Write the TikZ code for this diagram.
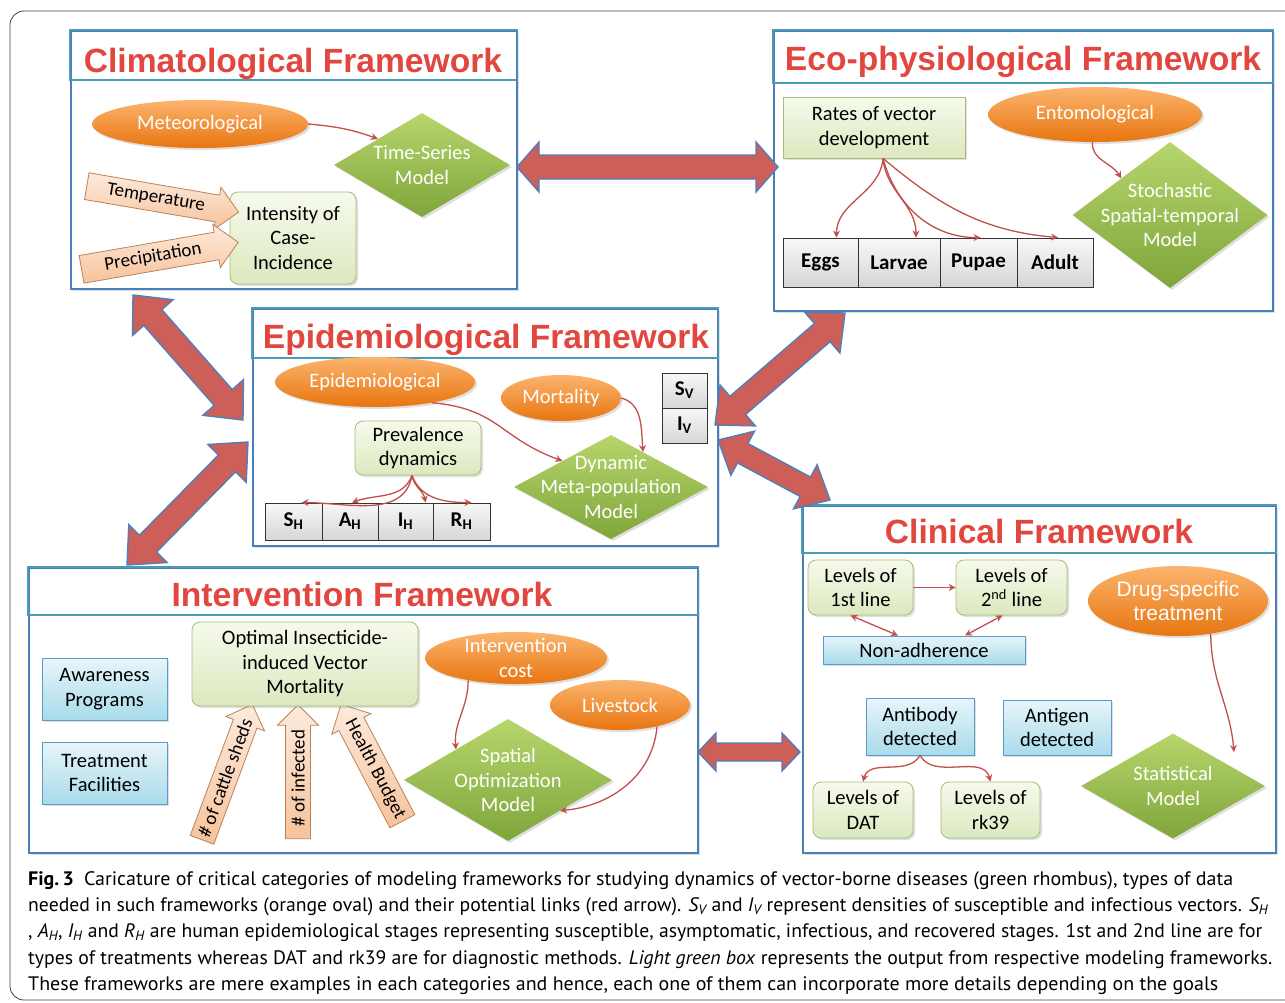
\documentclass[tikz,border=0pt]{standalone}
\usepackage{fontspec}
\usepackage{graphicx}
\setmainfont{Carlito}
\newfontfamily\arialfont{Liberation Sans}
\newfontfamily\capfont{PT Sans}
\usetikzlibrary{shapes.geometric,shapes.arrows,calc,shadows,arrows.meta}

\definecolor{frameblue}{HTML}{4A7EBB}
\definecolor{titleteal}{HTML}{4A9BB5}
\definecolor{titlered}{HTML}{E2473F}
\definecolor{linkred}{HTML}{C0504D}
\definecolor{bigred}{HTML}{CD5F58}
\definecolor{bigborder}{HTML}{4F7FBB}
\definecolor{orangeT}{HTML}{FBB46E}
\definecolor{orangeB}{HTML}{E8750F}
\definecolor{greenT}{HTML}{B7D66C}
\definecolor{greenB}{HTML}{7FA53B}
\definecolor{lgT}{HTML}{F6FAEC}
\definecolor{lgB}{HTML}{DCE8BF}
\definecolor{lgD}{HTML}{A6BE78}
\definecolor{lbT}{HTML}{E8F5FA}
\definecolor{lbB}{HTML}{A8DBEA}
\definecolor{lbD}{HTML}{5B9BC8}
\definecolor{peachT}{HTML}{FDEBDD}
\definecolor{peachB}{HTML}{F6C29B}
\definecolor{peachD}{HTML}{B9835A}
\definecolor{grayT}{HTML}{F8F8F8}
\definecolor{grayB}{HTML}{D6D6D6}

\newcommand\bigdbl[5]{%
  \draw[bigarr] (#1) -- ($(#1)!#3!(#2)!#5!90:(#2)$) -- ($(#1)!#3!(#2)!#4!90:(#2)$)
   -- ($(#2)!#3!(#1)!#4!-90:(#1)$) -- ($(#2)!#3!(#1)!#5!-90:(#1)$) -- (#2)
   -- ($(#2)!#3!(#1)!#5!90:(#1)$) -- ($(#2)!#3!(#1)!#4!90:(#1)$)
   -- ($(#1)!#3!(#2)!#4!-90:(#2)$) -- ($(#1)!#3!(#2)!#5!-90:(#2)$) -- cycle;}

\tikzset{
 softshadow/.style={drop shadow={opacity=0.25,shadow xshift=2pt,shadow yshift=-2pt}},
 fw/.style={rectangle, draw=frameblue, line width=1.6pt, fill=white, softshadow, inner sep=0pt, anchor=north west},
 fwband/.style={draw=titleteal, line width=1.6pt},
 fwtext/.style={font=\arialfont\fontsize{33.6}{36}\selectfont\bfseries, text=titlered, anchor=base, inner sep=0pt},
 body/.style={font=\fontsize{20.5}{24.5}\selectfont, align=center},
 oval/.style={body, ellipse, inner sep=-15pt, top color=orangeT, bottom color=orangeB, draw=none, text=white, softshadow},
 dia/.style={body, diamond, inner sep=-30pt, top color=greenT, bottom color=greenB, draw=none, text=white, softshadow},
 sqbox/.style={body, rectangle, draw=lgD, line width=0.8pt, top color=lgT, bottom color=lgB, inner sep=2pt, softshadow},
 outbox/.style={sqbox, rounded corners=8pt},
 bluebox/.style={body, rectangle, draw=lbD, line width=1pt, top color=lbT, bottom color=lbB, inner sep=2pt, softshadow},
 cellbox/.style={rectangle, draw=black!80, line width=0.9pt, top color=grayT, bottom color=grayB, font=\fontsize{21}{24}\selectfont\bfseries, inner sep=0pt},
 inarr/.style={single arrow, draw=peachD, line width=0.8pt, top color=peachT, bottom color=peachB, single arrow head extend=8pt, inner xsep=3pt, inner ysep=5.5pt, font=\fontsize{19}{22}\selectfont},
 link/.style={draw=linkred, line width=1.3pt, -{Stealth[length=7pt,width=7pt]}},
 link2/.style={draw=linkred, line width=1.3pt, {Stealth[length=7pt,width=7pt]}-{Stealth[length=7pt,width=7pt]}},
 bigarr/.style={fill=bigred, draw=bigborder, line width=1.4pt, line join=miter},
 capline/.style={font=\capfont\fontsize{19.5}{22}\selectfont, anchor=base west, inner sep=0pt},
}

\begin{document}
\begin{tikzpicture}[x=1pt,y=-1pt]
\useasboundingbox (0,0) rectangle (1285,1002);
\draw[black!75, line width=0.8pt, rounded corners=14pt] (10,11) rectangle (1300,1000);

% ---------- framework boxes ----------
\node[fw, minimum width=446pt, minimum height=258pt] (clim) at (70,30) {};
\draw[fwband] (clim.north west) rectangle ($(clim.north east)+(0,50)$);
\node[fwtext] (climT) at (293,72) {Climatological Framework};

\node[fw, minimum width=499pt, minimum height=280pt] (eco) at (773,30) {};
\draw[fwband] (eco.north west) rectangle ($(eco.north east)+(0,53)$);
\node[fwtext] (ecoT) at (1023,70) {Eco-physiological Framework};

\node[fw, minimum width=465pt, minimum height=237pt] (epi) at (252,308) {};
\draw[fwband] (epi.north west) rectangle ($(epi.north east)+(0,50)$);
\node[fwtext] (epiT) at (486,348) {Epidemiological Framework};

\node[fw, minimum width=669pt, minimum height=285pt] (intv) at (28,567) {};
\draw[fwband] (intv.north west) rectangle ($(intv.north east)+(0,48)$);
\node[fwtext] (intvT) at (362,606) {Intervention Framework};

\node[fw, minimum width=473pt, minimum height=347pt] (clin) at (802,505) {};
\draw[fwband] (clin.north west) rectangle ($(clin.north east)+(0,48)$);
\node[fwtext] (clinT) at (1039,543) {Clinical Framework};

% ---------- big double arrows ----------
\coordinate (ceA) at (517,167);  \coordinate (ceB) at (778,167);
\coordinate (cpA) at (133,295);  \coordinate (cpB) at (243,420);
\coordinate (piA) at (248,442);  \coordinate (piB) at (127,565);
\coordinate (peA) at (715,425);  \coordinate (peB) at (845,313);
\coordinate (pcA) at (718,440);  \coordinate (pcB) at (830,500);
\coordinate (icA) at (698,752);  \coordinate (icB) at (800,752);
\bigdbl{ceA}{ceB}{22pt}{12pt}{25pt}
\bigdbl{cpA}{cpB}{30pt}{12pt}{27pt}
\bigdbl{piA}{piB}{30pt}{12pt}{27pt}
\bigdbl{peA}{peB}{30pt}{12pt}{27pt}
\bigdbl{pcA}{pcB}{28pt}{11pt}{25pt}
\bigdbl{icA}{icB}{18pt}{9pt}{19pt}

% ---------- Climatological ----------
\node[oval, minimum width=216pt, minimum height=48pt] (met) at (200,124) {Meteorological};
\node[dia, minimum width=176pt, minimum height=104pt] (ts) at (422,165) {Time-Series\\Model};
\node[outbox, minimum width=126pt, minimum height=92pt] (inten) at (293,238) {Intensity of\\Case-\\Incidence};
\node[inarr, rotate=-9.7, minimum height=154pt] (temp) at (156,198) {Temperature};
\node[inarr, rotate=9.8, minimum height=159pt] (prec) at (153,257) {Precipitation};
\draw[link] (met.east) to[out=-5,in=160] (ts.north west);

% ---------- Eco-physiological ----------
\node[sqbox, minimum width=182pt, minimum height=61pt] (rates) at (874,127.5) {Rates of vector\\development};
\node[oval, minimum width=214pt, minimum height=55pt] (ent) at (1095,114.5) {Entomological};
\node[dia, minimum width=195pt, minimum height=146pt] (st) at (1170,215) {Stochastic\\Spatial-temporal\\Model};
\node[cellbox, minimum width=75pt, minimum height=49pt] (eggs) at (820.5,262.5) {Eggs};
\node[cellbox, minimum width=82pt, minimum height=49pt] (larvae) at (899,262.5) {Larvae};
\node[cellbox, minimum width=77pt, minimum height=49pt] (pupae) at (978.5,262.5) {Pupae};
\node[cellbox, minimum width=76pt, minimum height=49pt] (adult) at (1055,262.5) {Adult};
\coordinate (rs) at ($(rates.south)+(9,0)$);
\draw[link] (rs) to[out=-95,in=90] ($(eggs.north)+(16,0)$);
\draw[link] (rs) to[out=-85,in=90] ($(larvae.north)+(17,0)$);
\draw[link] (rs) to[out=-75,in=180] ($(pupae.north)+(2,0)$);
\draw[link] (rs) to[out=-40,in=175] ($(adult.north)+(3,0)$);
\draw[link] (ent.265) to[out=-95,in=120] (st.north west);

% ---------- Epidemiological ----------
\node[oval, minimum width=200pt, minimum height=50pt] (epiov) at (375,382) {Epidemiological};
\node[oval, minimum width=120pt, minimum height=46pt] (mort) at (561,398) {Mortality};
\node[outbox, minimum width=126pt, minimum height=54pt] (prev) at (418,448) {Prevalence\\dynamics};
\node[dia, minimum width=194pt, minimum height=104pt] (dyn) at (611,487) {Dynamic\\Meta-population\\Model};
\node[cellbox, minimum width=45pt, minimum height=35pt] (sv) at (684.5,390.5) {S\textsubscript{V}};
\node[cellbox, minimum width=45pt, minimum height=35pt] (iv) at (684.5,425.5) {I\textsubscript{V}};
\node[cellbox, minimum width=57pt, minimum height=37pt] (sh) at (293.5,521.5) {S\textsubscript{H}};
\node[cellbox, minimum width=56pt, minimum height=37pt] (ah) at (350,521.5) {A\textsubscript{H}};
\node[cellbox, minimum width=55pt, minimum height=37pt] (ih) at (405.5,521.5) {I\textsubscript{H}};
\node[cellbox, minimum width=57pt, minimum height=37pt] (rh) at (461.5,521.5) {R\textsubscript{H}};
\draw[link] (epiov.-20) to[out=-5,in=160,looseness=1.2] (dyn.north west);
\coordinate (mtip) at ($(dyn.north)!0.33!(dyn.east)$);
\draw[link] (mort.east) to[out=-15,in=95] (mtip);
\coordinate (ps) at ($(prev.south)+(-6,0)$);
\draw[link] (ps) to[out=-100,in=0] ($(sh.north)+(8,0)$);
\draw[link] (ps) to[out=-110,in=20] ($(ah.north)+(2,0)$);
\draw[link] (ps) to[out=-80,in=100] ($(ih.north)+(20,0)$);
\draw[link] (ps) to[out=-70,in=180] ($(rh.north)+(10,0)$);

% ---------- Intervention ----------
\node[bluebox, minimum width=125pt, minimum height=62pt] (aware) at (104.5,689) {Awareness\\Programs};
\node[bluebox, minimum width=125pt, minimum height=62pt] (treat) at (104.5,773) {Treatment\\Facilities};
\node[oval, minimum width=182pt, minimum height=52pt] (icost) at (516,658) {Intervention\\cost};
\node[oval, minimum width=140pt, minimum height=50pt] (live) at (620,705) {Livestock};
\node[dia, minimum width=208pt, minimum height=122pt] (sp) at (508,780) {Spatial\\Optimization\\Model};
\node[inarr, rotate=69.6, minimum height=138pt] (cattle) at (225,778) {\# of cattle sheds};
\node[inarr, rotate=90, minimum height=134pt] (infd) at (298,778) {\# of infected};
\node[inarr, rotate=-62.3, shape border rotate=180, minimum height=132pt] (hb) at (375,769) {Health Budget};
\node[outbox, minimum width=226pt, minimum height=84pt] (opt) at (305,664) {Optimal Insecticide-\\induced Vector\\Mortality};
\draw[link] (icost.205) to[out=-90,in=95] (sp.north west);
\draw[link] (live.-30) to[out=-95,in=5] (sp.south east);

% ---------- Clinical ----------
\node[outbox, minimum width=105pt, minimum height=55pt] (l1) at (860.5,587.5) {Levels of\\1st line};
\node[outbox, minimum width=111pt, minimum height=55pt] (l2) at (1011.5,587.5) {Levels of\\2\textsuperscript{nd} line};
\node[bluebox, minimum width=202pt, minimum height=28pt, inner sep=0pt] (nonad) at (924,650) {Non-adherence};
\node[oval, minimum width=180pt, minimum height=70pt, font=\arialfont\fontsize{21}{24}\selectfont] (drug) at (1178,601) {Drug-specific\\treatment};
\node[dia, minimum width=184pt, minimum height=105pt] (stat) at (1173,786) {Statistical\\Model};
\node[bluebox, minimum width=108pt, minimum height=57pt] (ab) at (920,726.5) {Antibody\\detected};
\node[bluebox, minimum width=108pt, minimum height=55pt] (ag) at (1057,727.5) {Antigen\\detected};
\node[outbox, minimum width=100pt, minimum height=56pt] (dat) at (863,810) {Levels of\\DAT};
\node[outbox, minimum width=99pt, minimum height=56pt] (rk) at (990.5,810) {Levels of\\rk39};
\draw[link] (l1.east) -- (l2.west);
\draw[link2] ($(l1.south)+(-10,0)$) -- ($(nonad.north)+(-26,0)$);
\draw[link2] ($(l2.south)+(-9,0)$) -- ($(nonad.north)+(41,0)$);
\coordinate (stip) at (1234,752);
\draw[link] (drug.-45) to[out=-90,in=95] (stip);
\draw[link] (ab.south) to[out=-120,in=75] (dat.north);
\draw[link] (ab.south) to[out=-60,in=105] (rk.north);

% ---------- caption ----------
\node[capline] (cap1) at (28,885) {\resizebox{1205pt}{\height}{\textbf{Fig.\,3}\enspace Caricature of critical categories of modeling frameworks for studying dynamics of vector-borne diseases (green rhombus), types of data}};
\node[capline] (cap2) at (28,911) {\resizebox{1240pt}{\height}{needed in such frameworks (orange oval) and their potential links (red arrow). \textit{S\textsubscript{V}} and \textit{I\textsubscript{V}} represent densities of susceptible and infectious vectors. \textit{S\textsubscript{H}}}};
\node[capline] (cap3) at (28,937) {\resizebox{1234pt}{\height}{, \textit{A\textsubscript{H}}, \textit{I\textsubscript{H}} and \textit{R\textsubscript{H}} are human epidemiological stages representing susceptible, asymptomatic, infectious, and recovered stages. 1st and 2nd line are for}};
\node[capline] (cap4) at (28,964) {\resizebox{1244pt}{\height}{types of treatments whereas DAT and rk39 are for diagnostic methods. \textit{Light green box} represents the output from respective modeling frameworks.}};
\node[capline] (cap5) at (28,990) {\resizebox{1190pt}{\height}{These frameworks are mere examples in each categories and hence, each one of them can incorporate more details depending on the goals}};
\end{tikzpicture}
\end{document}
